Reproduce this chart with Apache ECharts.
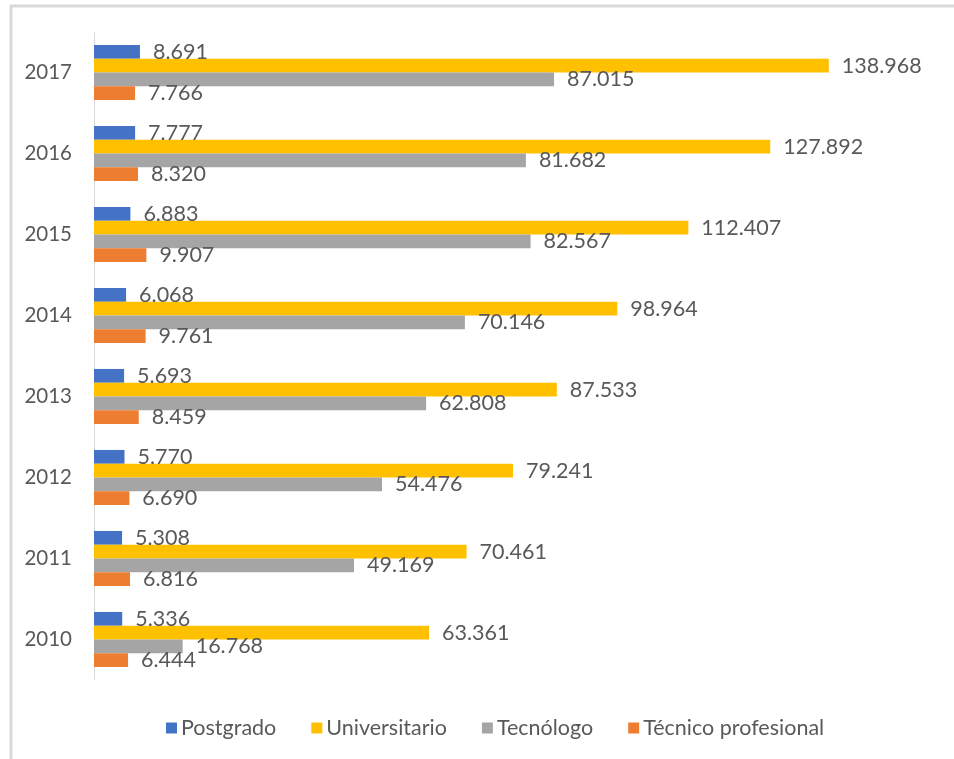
<!DOCTYPE html>
<html>
<head>
<meta charset="utf-8">
<script src="https://cdn.jsdelivr.net/npm/echarts@6/dist/echarts.min.js"></script>
<style>
  html, body { margin: 0; padding: 0; background: #fff; }
  #chart { width: 954px; height: 759px; }
</style>
</head>
<body>
<div id="chart"></div>
<script>
// años (de abajo hacia arriba)
const years = ['2010', '2011', '2012', '2013', '2014', '2015', '2016', '2017'];

// graduados por nivel de formación
const postgrado     = [5336, 5308, 5770, 5693, 6068, 6883, 7777, 8691];
const universitario = [63361, 70461, 79241, 87533, 98964, 112407, 127892, 138968];
const tecnologo     = [16768, 49169, 54476, 62808, 70146, 82567, 81682, 87015];
const tecnico       = [6444, 6816, 6690, 8459, 9761, 9907, 8320, 7766];

const legendNames = ['Postgrado', 'Universitario', 'Tecnólogo', 'Técnico profesional'];
const colors = {
    'Postgrado': '#4472C4',
    'Universitario': '#FFC000',
    'Tecnólogo': '#A5A5A5',
    'Técnico profesional': '#ED7D31'
};

const textColor = '#595959';
const fontFamily = 'Lato, "Open Sans", sans-serif';

// 138968 -> "138.968"
function fmt(v) {
    const miles = Math.floor(v / 1000);
    const resto = String(v % 1000).padStart(3, '0');
    return miles + '.' + resto;
}

function makeSeries(name, values) {
    return {
        name: name,
        type: 'bar',
        data: values,
        barGap: '0%',
        barCategoryGap: '32%',
        itemStyle: { color: colors[name] },
        label: {
            show: true,
            position: 'right',
            distance: 13,
            color: textColor,
            fontSize: 21.5,
            fontFamily: fontFamily,
            formatter: p => fmt(p.value)
        }
    };
}

const myChart = echarts.init(document.getElementById('chart'));

myChart.setOption({
    animation: false,
    graphic: [{
        type: 'polyline',
        shape: { points: [[11, 759], [11, 6], [954, 6]] },
        style: { stroke: '#d9d9d9', lineWidth: 3, fill: null }
    }],
    legend: {
        data: legendNames,
        left: 161,
        top: 712,
        itemWidth: 11,
        itemHeight: 11,
        itemGap: 35,
        icon: 'rect',
        textStyle: { color: textColor, fontSize: 21.5, fontFamily: fontFamily, padding: [0, 0, 0, -1] }
    },
    grid: { left: 94, right: 14, top: 32, bottom: 79 },
    xAxis: {
        type: 'value',
        min: 0,
        max: 160000,
        show: false
    },
    yAxis: {
        type: 'category',
        data: years,
        axisLine: { show: true, lineStyle: { color: '#d9d9d9', width: 1 } },
        axisTick: { show: false },
        axisLabel: { color: textColor, fontSize: 20.5, fontFamily: fontFamily, margin: 22 }
    },
    // la primera serie queda arriba dentro de cada grupo
    series: [
        makeSeries('Postgrado', postgrado),
        makeSeries('Universitario', universitario),
        makeSeries('Tecnólogo', tecnologo),
        makeSeries('Técnico profesional', tecnico)
    ]
});
</script>
</body>
</html>
